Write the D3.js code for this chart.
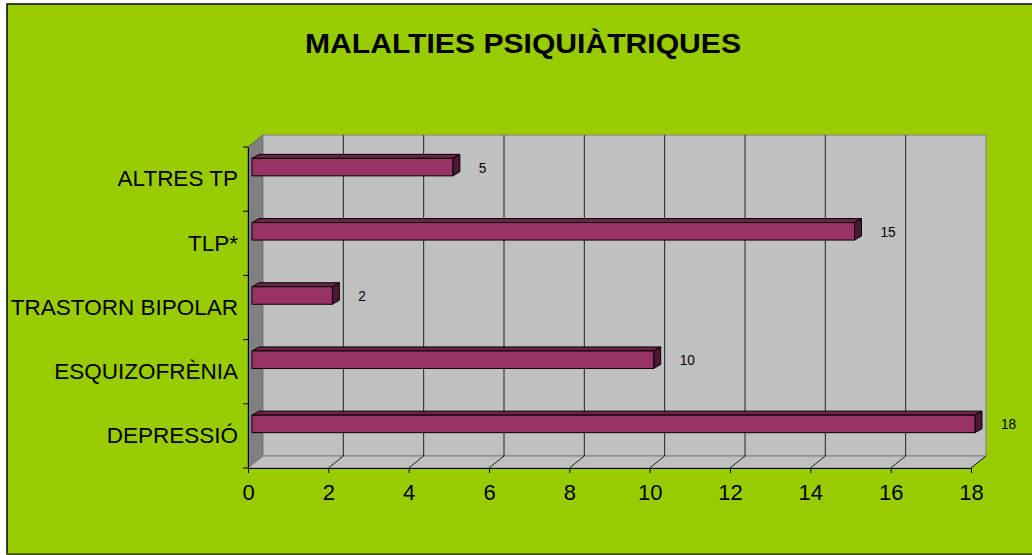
<!DOCTYPE html>
<html lang="ca">
<head>
<meta charset="UTF-8">
<title>Malalties psiquiàtriques</title>
<script src="https://d3js.org/d3.v7.min.js"></script>
<style>
    body { margin: 0; padding: 0; background: white; }
    svg { display: block; font-family: Arial, "Liberation Sans", sans-serif; }
</style>
</head>
<body>
<div id="chart"></div>
<script>
    // chart data
    const categories = ['DEPRESSIÓ', 'ESQUIZOFRÈNIA', 'TRASTORN BIPOLAR', 'TLP*', 'ALTRES TP'];
    const values = [18, 10, 2, 15, 5];
    const xTicks = [0, 2, 4, 6, 8, 10, 12, 14, 16, 18];
    const title = 'MALALTIES PSIQUIÀTRIQUES';

    const width = 1032, height = 555;
    const font = 'Arial, "Liberation Sans", sans-serif';
    const svg = d3.select('#chart').append('svg')
        .attr('width', width).attr('height', height);

    // background + frame
    svg.append('rect').attr('x', 0).attr('y', 0).attr('width', width).attr('height', height).attr('fill', 'white');
    svg.append('rect').attr('x', 7).attr('y', 4).attr('width', width - 6).attr('height', 550)
        .attr('fill', '#99cc00').attr('stroke', '#000').attr('stroke-width', 1.5);
    svg.append('line').attr('x1', 7).attr('x2', width).attr('y1', 554).attr('y2', 554)
        .attr('stroke', '#4d6600').attr('stroke-width', 2);

    svg.append('text').attr('x', 523).attr('y', 53).attr('text-anchor', 'middle')
        .attr('font-size', 28).attr('font-weight', 'bold')
        .attr('textLength', 436).attr('lengthAdjust', 'spacingAndGlyphs').text(title);

    // 3D plot geometry
    const x0 = 248, x1 = 971, yTop = 147, yBot = 468;
    const dx = 15, dy = -12;   // depth offset of back wall

    const x = d3.scaleLinear().domain([0, 18]).range([x0, x1]);
    const y = d3.scaleBand().domain(categories).range([yBot, yTop]);

    const poly = pts => pts.map(p => p.join(',')).join(' ');

    // left side wall
    svg.append('polygon')
        .attr('points', poly([[x0, yTop], [x0 + dx, yTop + dy], [x0 + dx, yBot + dy], [x0, yBot]]))
        .attr('fill', '#808080').attr('stroke', '#333').attr('stroke-width', 0.6);
    // back wall
    svg.append('rect').attr('x', x0 + dx).attr('y', yTop + dy)
        .attr('width', x1 - x0).attr('height', yBot - yTop)
        .attr('fill', '#c0c0c0').attr('stroke', '#808080');
    // floor
    svg.append('polygon')
        .attr('points', poly([[x0, yBot], [x0 + dx, yBot + dy], [x1 + dx, yBot + dy], [x1, yBot]]))
        .attr('fill', '#c0c0c0').attr('stroke', '#808080');

    // gridlines on back wall and floor
    svg.selectAll('.grid').data(xTicks.slice(1, -1)).join('line')
        .attr('x1', d => x(d) + dx).attr('x2', d => x(d) + dx)
        .attr('y1', yTop + dy).attr('y2', yBot + dy)
        .attr('stroke', '#222').attr('stroke-width', 1);
    svg.selectAll('.floorline').data(xTicks.slice(1)).join('line')
        .attr('x1', d => x(d)).attr('x2', d => x(d) + dx)
        .attr('y1', yBot).attr('y2', yBot + dy)
        .attr('stroke', '#222').attr('stroke-width', 1);

    // axes
    const xAxis = svg.append('g').attr('transform', `translate(0,${yBot})`)
        .call(d3.axisBottom(x).tickValues(xTicks).tickSize(5).tickPadding(11));
    xAxis.select('.domain').attr('stroke', '#000');
    xAxis.selectAll('text').attr('font-size', 22).attr('fill', '#000').attr('font-family', font);

    const yAxis = svg.append('g').attr('transform', `translate(${x0},0)`)
        .call(d3.axisLeft(y).tickSize(0).tickPadding(10));
    yAxis.select('.domain').attr('stroke', '#000');
    yAxis.selectAll('text').attr('font-size', 22.5).attr('fill', '#000').attr('font-family', font);
    // ticks between bands
    const bounds = [0, 1, 2, 3, 4, 5].map(i => yBot - i * y.step());
    svg.selectAll('.ytick').data(bounds).join('line')
        .attr('x1', x0 - 5).attr('x2', x0).attr('y1', d => d).attr('y2', d => d)
        .attr('stroke', '#000');

    // bars
    const bh = 17.5, bx = 4, bdx = 7, bdy = -4;
    const bars = svg.append('g');
    categories.forEach((c, i) => {
        const v = values[i];
        const yc = y(c) + y.bandwidth() / 2 - 12;
        const top = yc - bh / 2, bot = yc + bh / 2;
        const l = x(0) + bx, r = x(v) + bx;
        bars.append('polygon')
            .attr('points', poly([[l, top], [l + bdx, top + bdy], [r + bdx, top + bdy], [r, top]]))
            .attr('fill', '#6e2349').attr('stroke', '#000').attr('stroke-width', 1);
        bars.append('polygon')
            .attr('points', poly([[r, top], [r + bdx, top + bdy], [r + bdx, bot + bdy], [r, bot]]))
            .attr('fill', '#4d1833').attr('stroke', '#000').attr('stroke-width', 1);
        bars.append('rect').attr('x', l).attr('y', top).attr('width', r - l).attr('height', bh)
            .attr('fill', '#993366').attr('stroke', '#000').attr('stroke-width', 1);
        bars.append('text')
            .attr('transform', `translate(${r + 26},${yc + 5.5}) scale(0.88,1)`)
            .attr('font-size', 15.5).attr('fill', '#000').attr('font-family', font).text(v);
    });
</script>
</body>
</html>
